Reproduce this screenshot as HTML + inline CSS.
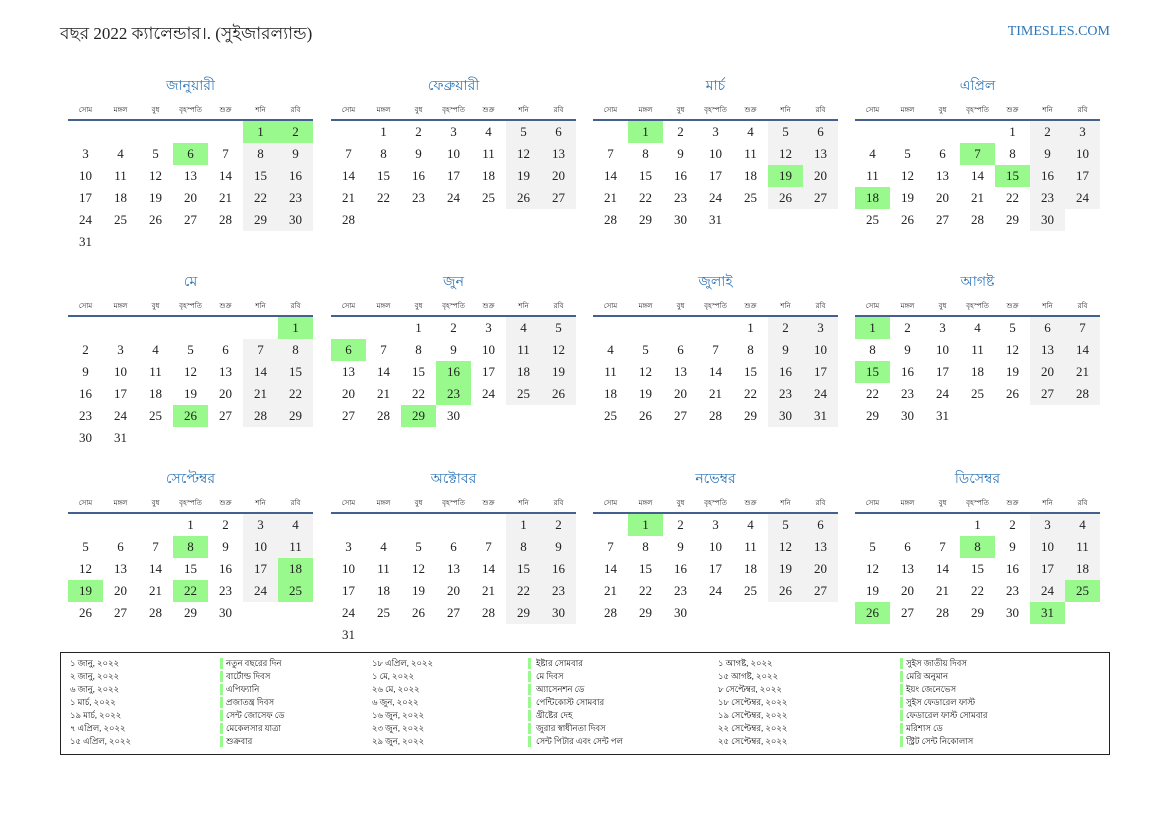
<!DOCTYPE html>
<html><head><meta charset="utf-8">
<style>
body{margin:0;width:1169px;height:827px;background:#fff;position:relative;overflow:hidden;font-family:"Liberation Serif",serif;color:#222}
.abs{position:absolute}
.title{left:60px;top:21px;font-size:17px;white-space:nowrap}
.site{right:59px;top:24px;font-size:14px;color:#2e75b6}
.mname{font-size:14px;color:#2e75b6;text-align:center;width:245px}
.wd{font-size:7px;text-align:center;width:35px}
.line{height:2px;background:#44608f;width:245px}
.cell{width:35px;height:22px;line-height:22px;text-align:center;font-size:13px}
.we{background:#f2f2f2}
.hol{background:#99f98c}
.box{left:60px;top:652px;width:1048px;height:101px;border:1.5px solid #222}
.lg{font-size:8.5px;white-space:nowrap;line-height:10px;color:#111}
.bar{width:3px;height:11px;background:#99f98c}
</style></head><body>
<div class="abs title">বছর 2022 ক্যালেন্ডার।. (সুইজারল্যান্ড)</div>
<div class="abs site">TIMESLES.COM</div>
<div class="abs box"></div>
<script>
const monthNames=["জানুয়ারী","ফেব্রুয়ারী","মার্চ","এপ্রিল","মে","জুন","জুলাই","আগষ্ট","সেপ্টেম্বর","অক্টোবর","নভেম্বর","ডিসেম্বর"];
const weekdays=["সোম","মঙ্গল","বুধ","বৃহস্পতি","শুক্র","শনি","রবি"];
const holidayMonths=[1,1,1,3,3,4,4,4,5,5,6,6,6,6,8,8,9,9,9,9,9,11,12,12,12,12];
const holidayDays=[1,2,6,1,19,7,15,18,1,26,6,16,23,29,1,15,8,18,19,22,25,1,8,25,26,31];
const legendDates=["১ জানু, ২০২২","২ জানু, ২০২২","৬ জানু, ২০২২","১ মার্চ, ২০২২","১৯ মার্চ, ২০২২","৭ এপ্রিল, ২০২২","১৫ এপ্রিল, ২০২২","১৮ এপ্রিল, ২০২২","১ মে, ২০২২","২৬ মে, ২০২২","৬ জুন, ২০২২","১৬ জুন, ২০২২","২৩ জুন, ২০২২","২৯ জুন, ২০২২","১ আগষ্ট, ২০২২","১৫ আগষ্ট, ২০২২","৮ সেপ্টেম্বর, ২০২২","১৮ সেপ্টেম্বর, ২০২২","১৯ সেপ্টেম্বর, ২০২২","২২ সেপ্টেম্বর, ২০২২","২৫ সেপ্টেম্বর, ২০২২"];
const legendNames=["নতুন বছরের দিন","বার্টোল্ড দিবস","এপিফ্যানি","প্রজাতন্ত্র দিবস","সেন্ট জোসেফ ডে","মেকেলসার যাত্রা","শুক্রবার","ইষ্টার সোমবার","মে দিবস","অ্যাসেনশন ডে","পেন্টিকোস্ট সোমবার","খ্রীষ্টের দেহ","জুরার স্বাধীনতা দিবস","সেন্ট পিটার এবং সেন্ট পল","সুইস জাতীয় দিবস","মেরি অনুমান","ইয়ং জেনেভেস","সুইস ফেডারেল ফাস্ট","ফেডারেল ফাস্ট সোমবার","মরিশাস ডে","স্ট্রিট সেন্ট নিকোলাস"];
const year=2022;
const colX=[68,331,593,855], rowY=[72,268,465], cw=35, ch=22;
function add(cls,x,y,txt,name,inter){const d=document.createElement('div');d.className='abs '+cls;d.style.left=x+'px';d.style.top=y+'px';if(txt!==undefined)d.textContent=txt;


document.body.appendChild(d);return d;}
for(let m=0;m<12;m++){
  const x0=colX[m%4], y0=rowY[Math.floor(m/4)];
  add('mname',x0,y0+2,monthNames[m],'month-title',false);
  weekdays.forEach((w,i)=>add('wd',x0+i*cw,y0+32,w,'weekday-header',false));
  add('line',x0,y0+47,undefined,'month-rule',false);
  const first=(new Date(year,m,1).getDay()+6)%7, n=new Date(year,m+1,0).getDate();
  for(let d=1;d<=n;d++){
    const idx=first+d-1, c=idx%7, r=Math.floor(idx/7);
    let cls='cell';
    let hol=false;for(let k=0;k<holidayMonths.length;k++)if(holidayMonths[k]===m+1&&holidayDays[k]===d)hol=true;
    if(hol)cls+=' hol';else if(c>=5)cls+=' we';
    add(cls,x0+c*cw,y0+49+r*ch,d,hol?'holiday-date':'date-cell',true);
  }
}
const lx=[[70,220,226],[372,528,536],[718,900,906]];
legendDates.forEach((t,i)=>{const col=Math.floor(i/7),r=i%7,y=658+r*13;
  add('lg',lx[col][0],y,t,'legend-date',false);
  add('bar',lx[col][1],y-0.5,undefined,'legend-bar',false);
  add('lg',lx[col][2],y,legendNames[i],'legend-holiday-name',false);
});
</script>
</body></html>
